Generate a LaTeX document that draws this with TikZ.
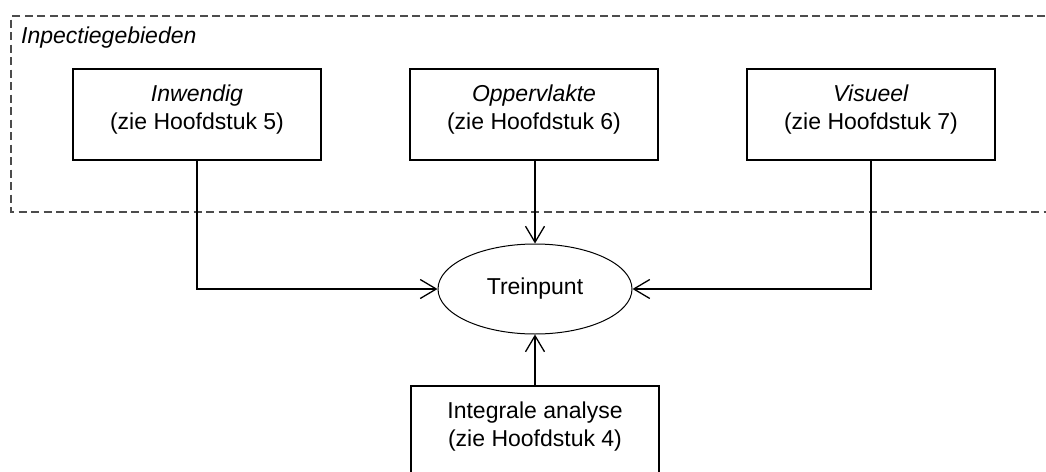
\documentclass[tikz,border=0pt]{standalone}
\usepackage{fontspec}
\setmainfont{Liberation Sans}
\usetikzlibrary{arrows.meta,shapes.geometric}
\tikzset{
  txt/.style={font=\fontsize{23}{28}\selectfont},
  chapbox/.style={txt, draw=black, line width=1.3pt, rectangle, minimum width=248pt,
    minimum height=91pt, inner sep=0pt, align=center, fill=white},
  hubnode/.style={txt, draw=black, line width=1pt, ellipse, minimum width=194pt,
    minimum height=90pt, inner sep=0pt},
  region/.style={draw=black!70, line width=1.2pt, dash pattern=on 8pt off 4.5pt},
  link/.style={draw=black, line width=1.3pt, -{Straight Barb[length=16pt,width=19pt,line width=1.3pt]}}
}
\newcommand{\lowstrut}{\rule[-14pt]{0pt}{14pt}}
\begin{document}
\begin{tikzpicture}[x=1pt,y=-1pt]
  \useasboundingbox (0,0) rectangle (1046,471);
  % dashed area with the inspection fields
  \draw[region] (1070,16) -- (11,16) -- (11,212) -- (1070,212);
  \node[txt, anchor=base west, inner sep=0pt] (title) at (21,43) {\textit{Inpectiegebieden}};
  % chapter boxes
  \node[chapbox] (inw) at (197,114.5) {\textit{Inwendig}\\(zie Hoofdstuk 5)\lowstrut};
  \node[chapbox] (opp) at (534,114.5) {\textit{Oppervlakte}\\(zie Hoofdstuk 6)\lowstrut};
  \node[chapbox] (vis) at (871,114.5) {\textit{Visueel}\\(zie Hoofdstuk 7)\lowstrut};
  \node[chapbox] (int) at (535,431.5) {Integrale analyse\\(zie Hoofdstuk 4)\lowstrut};
  % central point
  \node[hubnode] (tp) at (535,289) {Treinpunt};
  % connectors
  \draw[link] (inw.south) |- (tp.west);
  \draw[link] (vis.south) |- (tp.east);
  \draw[link] (opp.south -| tp.north) -- (tp.north);
  \draw[link] (int.north) -- (tp.south);
\end{tikzpicture}
\end{document}
